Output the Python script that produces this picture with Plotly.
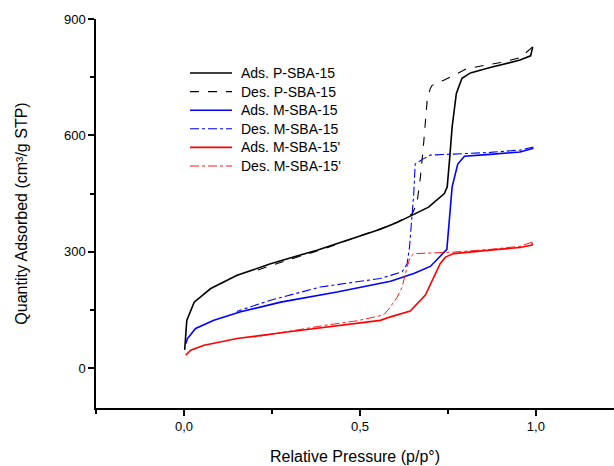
import plotly.graph_objects as go

# Ads. P-SBA-15
p_ads_x = [0.002, 0.008, 0.029, 0.076, 0.151, 0.246, 0.378, 0.558, 0.605, 0.695, 0.740, 0.748,
           0.755, 0.762, 0.774, 0.790, 0.814, 0.870, 0.955, 0.985, 0.991]
p_ads_y = [47, 123, 170, 205, 239, 269, 304, 358, 375, 415, 450, 467,
           540, 622, 708, 747, 761, 775, 794, 805, 828]
# Des. P-SBA-15
p_des_x = [0.991, 0.955, 0.900, 0.850, 0.804, 0.738, 0.705, 0.700, 0.691, 0.681, 0.672, 0.662,
           0.648, 0.605, 0.558, 0.500, 0.400, 0.300, 0.200]
p_des_y = [828, 800, 788, 780, 772, 742, 729, 721, 690, 579, 493, 424,
           397, 376, 359, 341, 308, 280, 250]
# Ads. M-SBA-15
m_ads_x = [0.005, 0.010, 0.033, 0.085, 0.161, 0.275, 0.435, 0.587, 0.653, 0.700, 0.747, 0.752,
           0.762, 0.778, 0.797, 0.870, 0.955, 0.993]
m_ads_y = [63, 76, 102, 123, 145, 170, 196, 224, 244, 262, 306, 364,
           467, 526, 546, 551, 557, 567]
# Des. M-SBA-15
m_des_x = [0.993, 0.955, 0.870, 0.700, 0.681, 0.657, 0.653, 0.648, 0.641, 0.634, 0.620, 0.587,
           0.558, 0.388, 0.246, 0.150]
m_des_y = [570, 562, 556, 549, 540, 526, 450, 390, 312, 269, 248, 239,
           231, 209, 175, 146]
# Ads. M-SBA-15'
m2_ads_x = [0.005, 0.019, 0.057, 0.151, 0.293, 0.435, 0.558, 0.587, 0.643, 0.686, 0.705, 0.728,
            0.743, 0.766, 0.870, 0.955, 0.989, 0.990]
m2_ads_y = [33, 46, 59, 76, 93, 110, 123, 132, 147, 188, 226, 269,
            286, 295, 304, 311, 317, 323]
# Des. M-SBA-15'
m2_des_x = [0.990, 0.955, 0.870, 0.766, 0.653, 0.643, 0.634, 0.620, 0.606, 0.587, 0.582, 0.568,
            0.549, 0.492, 0.400, 0.300, 0.200]
m2_des_y = [325, 314, 306, 299, 295, 286, 261, 209, 183, 157, 152, 138,
            133, 122, 110, 95, 80]

series = [
    ("Ads. P-SBA-15", p_ads_x, p_ads_y, "black", "solid", 1.6),
    ("Des. P-SBA-15", p_des_x, p_des_y, "black", "dash", 1.1),
    ("Ads. M-SBA-15", m_ads_x, m_ads_y, "#0000ff", "solid", 1.6),
    ("Des. M-SBA-15", m_des_x, m_des_y, "#0000ff", "dashdot", 1.1),
    ("Ads. M-SBA-15'", m2_ads_x, m2_ads_y, "#ff0000", "solid", 1.6),
    ("Des. M-SBA-15'", m2_des_x, m2_des_y, "#ff0000", "dashdot", 0.9),
]

W, H = 614, 466
ML, MR, MT, MB = 96, 0, 19, 58
pw, ph = W - ML - MR, H - MT - MB

def px2paper(px, py):
    return (px - ML) / pw, (H - MB - py) / ph

fig = go.Figure()
shapes, annotations = [], []
for i, (name, xs, ys, col, dash, w) in enumerate(series):
    fig.add_trace(go.Scatter(x=xs, y=ys, mode="lines", name=name, showlegend=False,
                             line=dict(color=col, dash=dash, width=w)))
    row_y = 73 + i * 18.6
    x0, y0 = px2paper(190, row_y)
    x1, _ = px2paper(232, row_y)
    xt, _ = px2paper(239, row_y)
    shapes.append(dict(type="line", xref="paper", yref="paper", x0=x0, x1=x1, y0=y0, y1=y0,
                       line=dict(color=col, dash=dash, width=w)))
    annotations.append(dict(text=name, xref="paper", yref="paper", x=xt, y=y0,
                            xanchor="left", yanchor="middle", showarrow=False,
                            font=dict(size=14)))

font = "Liberation Sans, Arial, sans-serif"
fig.update_layout(
    width=W, height=H,
    margin=dict(l=ML, r=MR, t=MT, b=MB),
    plot_bgcolor="white", paper_bgcolor="white",
    font=dict(family=font, color="black", size=13),
    shapes=shapes, annotations=annotations,
    xaxis=dict(range=[-0.25, 1.222], tickvals=[0, 0.5, 1.0],
               ticktext=["0,0", "0,5", "1,0"],
               showgrid=False, zeroline=False, showline=True,
               linecolor="black", linewidth=1.5, ticks="outside",
               ticklen=6, tickwidth=1.5, tickcolor="black",
               tickfont=dict(size=13),
               minor=dict(tickvals=[-0.25, 0.25, 0.75], ticks="outside",
                          ticklen=4, tickwidth=1.5, tickcolor="black"),
               title=dict(text="Relative Pressure (p/p°)", font=dict(size=16), standoff=17)),
    yaxis=dict(range=[-103, 900], tickvals=[0, 300, 600, 900],
               showgrid=False, zeroline=False, showline=True,
               linecolor="black", linewidth=1.5, ticks="outside",
               ticklen=6, tickwidth=1.5, tickcolor="black",
               tickfont=dict(size=13),
               minor=dict(tickvals=[150, 450, 750], ticks="outside",
                          ticklen=4, tickwidth=1.5, tickcolor="black"),
               title=dict(text="Quantity Adsorbed (cm³/g STP)", font=dict(size=16), standoff=32)),
)

fig.write_html("out.html")
